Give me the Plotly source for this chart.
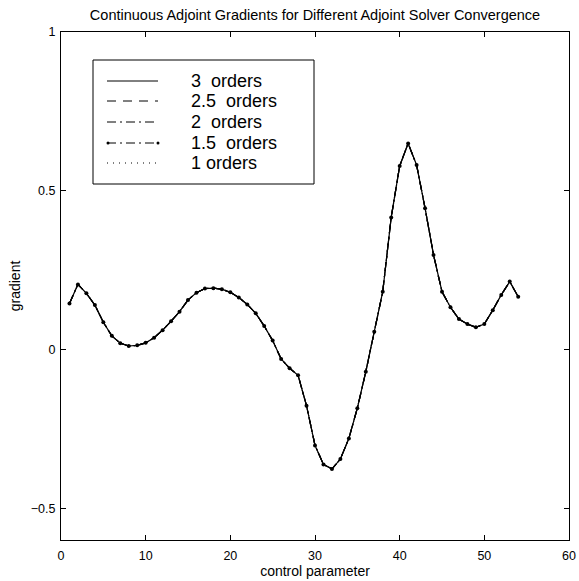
import plotly.graph_objects as go

# ---- data -------------------------------------------------------------
control_parameter = [1, 2, 3, 4, 5, 6, 7, 8, 9, 10, 11, 12, 13, 14, 15, 16, 17, 18,
                     19, 20, 21, 22, 23, 24, 25, 26, 27, 28, 29, 30, 31, 32, 33, 34,
                     35, 36, 37, 38, 39, 40, 41, 42, 43, 44, 45, 46, 47, 48, 49, 50,
                     51, 52, 53, 54]

grad_3_orders = [0.145, 0.205, 0.177, 0.140, 0.086, 0.043, 0.020, 0.011, 0.013, 0.021,
                 0.037, 0.061, 0.089, 0.119, 0.156, 0.179, 0.192, 0.193, 0.190, 0.180,
                 0.164, 0.142, 0.114, 0.074, 0.028, -0.030, -0.059, -0.081, -0.177, -0.302,
                 -0.362, -0.376, -0.345, -0.280, -0.185, -0.070, 0.056, 0.182, 0.416, 0.578,
                 0.649, 0.581, 0.445, 0.298, 0.182, 0.133, 0.096, 0.080, 0.070, 0.080,
                 0.124, 0.172, 0.214, 0.166]
grad_2p5_orders = [0.145, 0.205, 0.177, 0.140, 0.086, 0.043, 0.020, 0.011, 0.013, 0.021,
                   0.037, 0.061, 0.089, 0.119, 0.156, 0.179, 0.192, 0.193, 0.190, 0.180,
                   0.164, 0.142, 0.114, 0.074, 0.028, -0.030, -0.059, -0.081, -0.177, -0.302,
                   -0.362, -0.376, -0.345, -0.280, -0.185, -0.070, 0.056, 0.182, 0.416, 0.578,
                   0.649, 0.581, 0.445, 0.298, 0.182, 0.133, 0.096, 0.080, 0.070, 0.080,
                   0.124, 0.172, 0.214, 0.166]
grad_2_orders = [0.145, 0.205, 0.177, 0.140, 0.086, 0.043, 0.020, 0.011, 0.013, 0.021,
                 0.037, 0.061, 0.089, 0.119, 0.156, 0.179, 0.192, 0.193, 0.190, 0.180,
                 0.164, 0.142, 0.114, 0.074, 0.028, -0.030, -0.059, -0.081, -0.177, -0.302,
                 -0.362, -0.376, -0.345, -0.280, -0.185, -0.070, 0.056, 0.182, 0.416, 0.578,
                 0.649, 0.581, 0.445, 0.298, 0.182, 0.133, 0.096, 0.080, 0.070, 0.080,
                 0.124, 0.172, 0.214, 0.166]
grad_1p5_orders = [0.145, 0.205, 0.177, 0.140, 0.086, 0.043, 0.020, 0.011, 0.013, 0.021,
                   0.037, 0.061, 0.089, 0.119, 0.156, 0.179, 0.192, 0.193, 0.190, 0.180,
                   0.164, 0.142, 0.114, 0.074, 0.028, -0.030, -0.059, -0.081, -0.177, -0.302,
                   -0.362, -0.376, -0.345, -0.280, -0.185, -0.070, 0.056, 0.182, 0.416, 0.578,
                   0.649, 0.581, 0.445, 0.298, 0.182, 0.133, 0.096, 0.080, 0.070, 0.080,
                   0.124, 0.172, 0.214, 0.166]
grad_1_orders = [0.145, 0.205, 0.177, 0.140, 0.086, 0.043, 0.020, 0.011, 0.013, 0.021,
                 0.037, 0.061, 0.089, 0.119, 0.156, 0.179, 0.192, 0.193, 0.190, 0.180,
                 0.164, 0.142, 0.114, 0.074, 0.028, -0.030, -0.059, -0.081, -0.177, -0.302,
                 -0.362, -0.376, -0.345, -0.280, -0.185, -0.070, 0.056, 0.182, 0.416, 0.578,
                 0.649, 0.581, 0.445, 0.298, 0.182, 0.133, 0.096, 0.080, 0.070, 0.080,
                 0.124, 0.172, 0.214, 0.166]

series_names = ["3  orders", "2.5  orders", "2  orders", "1.5  orders", "1 orders"]
series_values = [grad_3_orders, grad_2p5_orders, grad_2_orders, grad_1p5_orders, grad_1_orders]

x_ticks = [0, 10, 20, 30, 40, 50, 60]
y_ticks = [-0.5, 0, 0.5, 1]

# ---- styles -----------------------------------------------------------
W, H = 579, 581
L, R, T, B = 61, 569, 32, 540
FONT = "Liberation Sans, Arial, Helvetica, sans-serif"
dashes = ["solid", "9px,7px", "9px,4px,2px,4px", "9px,4px,2px,4px", "1px,5px"]
with_markers = [False, False, False, True, False]

fig = go.Figure()
for name, vals, dash, mk in zip(series_names, series_values, dashes, with_markers):
    fig.add_trace(go.Scatter(
        x=control_parameter, y=vals, name=name,
        mode="lines+markers" if mk else "lines",
        line=dict(color="black", width=1.2, dash=dash),
        marker=dict(color="black", size=4, symbol="circle"),
        showlegend=False,
    ))

# ---- manual MATLAB-style legend (paper coords from pixels) ----------
def px(xp):
    return (xp - L) / (R - L)

def py(yp):
    return (B - yp) / (B - T)

shapes = [dict(type="rect", xref="paper", yref="paper",
               x0=px(93), x1=px(314), y0=py(184), y1=py(60),
               line=dict(color="black", width=1), fillcolor="white", layer="above")]
annotations = []
rows = [81, 101, 122, 143, 163]
for name, dash, mk, ry in zip(series_names, dashes, with_markers, rows):
    shapes.append(dict(type="line", xref="paper", yref="paper",
                       x0=px(107), x1=px(158), y0=py(ry), y1=py(ry),
                       line=dict(color="black", width=1, dash=dash), layer="above"))
    if mk:
        for cx in (108, 158):
            shapes.append(dict(type="circle", xref="paper", yref="paper",
                               x0=px(cx - 1.5), x1=px(cx + 1.5),
                               y0=py(ry + 1.5), y1=py(ry - 1.5),
                               fillcolor="black", line=dict(color="black", width=0),
                               layer="above"))
    annotations.append(dict(xref="paper", yref="paper", x=px(189), y=py(ry),
                            xanchor="left", yanchor="middle", text=name,
                            showarrow=False, font=dict(family=FONT, size=18, color="black")))

axis_common = dict(showline=True, linecolor="black", linewidth=1, mirror="ticks",
                   ticks="inside", ticklen=5, tickcolor="black", tickwidth=1,
                   showgrid=False, zeroline=False, automargin=False,
                   tickfont=dict(family=FONT, size=12.5, color="black"))

fig.update_layout(
    width=W, height=H,
    margin=dict(l=L, r=W - R, t=T, b=H - B, autoexpand=False),
    paper_bgcolor="white", plot_bgcolor="white",
    font=dict(family=FONT, size=12, color="black"),
    title=dict(text="Continuous Adjoint Gradients for Different Adjoint Solver Convergence",
               x=0.5, xref="paper", xanchor="center",
               y=1 - 15 / H, yref="container", yanchor="middle",
               font=dict(family=FONT, size=14.5, color="black")),
    xaxis=dict(range=[0, 60], tickvals=x_ticks, ticktext=[str(v) for v in x_ticks],
               ticklabelstandoff=4,
               title=dict(text="control parameter", standoff=4,
                          font=dict(family=FONT, size=14, color="black")),
               **axis_common),
    yaxis=dict(range=[-0.6, 1], tickvals=y_ticks,
               ticktext=["\u22120.5", "0", "0.5", "1"],
               ticklabelstandoff=2,
               title=dict(text="gradient", standoff=6,
                          font=dict(family=FONT, size=14, color="black")),
               **axis_common),
    shapes=shapes,
    annotations=annotations,
    showlegend=False,
)

fig.write_html("out.html")
